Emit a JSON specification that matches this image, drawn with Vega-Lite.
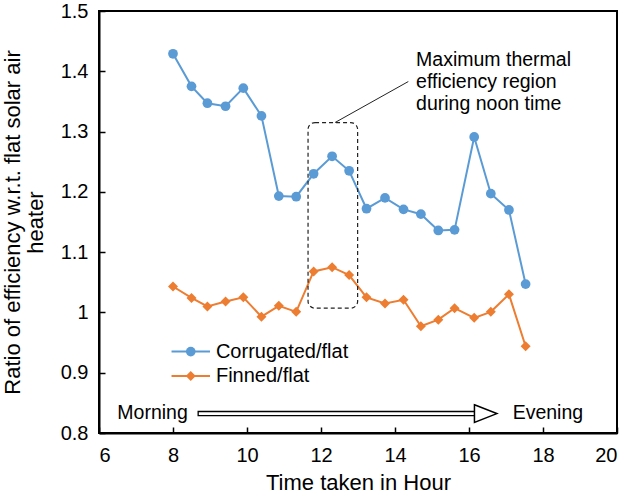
{
  "$schema": "https://vega.github.io/schema/vega-lite/v6.json",
  "width": 518,
  "height": 422,
  "autosize": {"type": "none"},
  "padding": {"left": 99, "top": 11, "right": 23, "bottom": 65},
  "background": "white",
  "config": {
    "font": "Liberation Sans",
    "view": {"stroke": "black", "strokeWidth": 2},
    "axis": {
      "domainColor": "black",
      "domainWidth": 2,
      "tickColor": "black",
      "tickWidth": 1.5,
      "tickSize": -6,
      "labelColor": "black",
      "labelFontSize": 20,
      "labelFont": "Liberation Sans",
      "titleColor": "black",
      "titleFontSize": 22,
      "titleFontWeight": "normal",
      "titleFont": "Liberation Sans",
      "grid": false
    }
  },
  "datasets": {
    "ratios": [
      {"hour": 8.0, "ratio": 1.429, "series": "Corrugated/flat"},
      {"hour": 8.5, "ratio": 1.375, "series": "Corrugated/flat"},
      {"hour": 8.93, "ratio": 1.347, "series": "Corrugated/flat"},
      {"hour": 9.42, "ratio": 1.342, "series": "Corrugated/flat"},
      {"hour": 9.9, "ratio": 1.372, "series": "Corrugated/flat"},
      {"hour": 10.39, "ratio": 1.326, "series": "Corrugated/flat"},
      {"hour": 10.86, "ratio": 1.193, "series": "Corrugated/flat"},
      {"hour": 11.33, "ratio": 1.192, "series": "Corrugated/flat"},
      {"hour": 11.8, "ratio": 1.23, "series": "Corrugated/flat"},
      {"hour": 12.3, "ratio": 1.259, "series": "Corrugated/flat"},
      {"hour": 12.76, "ratio": 1.235, "series": "Corrugated/flat"},
      {"hour": 13.23, "ratio": 1.172, "series": "Corrugated/flat"},
      {"hour": 13.73, "ratio": 1.19, "series": "Corrugated/flat"},
      {"hour": 14.23, "ratio": 1.171, "series": "Corrugated/flat"},
      {"hour": 14.7, "ratio": 1.163, "series": "Corrugated/flat"},
      {"hour": 15.17, "ratio": 1.136, "series": "Corrugated/flat"},
      {"hour": 15.61, "ratio": 1.137, "series": "Corrugated/flat"},
      {"hour": 16.14, "ratio": 1.291, "series": "Corrugated/flat"},
      {"hour": 16.59, "ratio": 1.197, "series": "Corrugated/flat"},
      {"hour": 17.08, "ratio": 1.17, "series": "Corrugated/flat"},
      {"hour": 17.53, "ratio": 1.047, "series": "Corrugated/flat"},
      {"hour": 8.0, "ratio": 1.043, "series": "Finned/flat"},
      {"hour": 8.5, "ratio": 1.024, "series": "Finned/flat"},
      {"hour": 8.93, "ratio": 1.01, "series": "Finned/flat"},
      {"hour": 9.42, "ratio": 1.018, "series": "Finned/flat"},
      {"hour": 9.9, "ratio": 1.025, "series": "Finned/flat"},
      {"hour": 10.39, "ratio": 0.993, "series": "Finned/flat"},
      {"hour": 10.86, "ratio": 1.011, "series": "Finned/flat"},
      {"hour": 11.33, "ratio": 1.001, "series": "Finned/flat"},
      {"hour": 11.8, "ratio": 1.068, "series": "Finned/flat"},
      {"hour": 12.3, "ratio": 1.075, "series": "Finned/flat"},
      {"hour": 12.76, "ratio": 1.062, "series": "Finned/flat"},
      {"hour": 13.23, "ratio": 1.025, "series": "Finned/flat"},
      {"hour": 13.73, "ratio": 1.015, "series": "Finned/flat"},
      {"hour": 14.23, "ratio": 1.021, "series": "Finned/flat"},
      {"hour": 14.7, "ratio": 0.977, "series": "Finned/flat"},
      {"hour": 15.17, "ratio": 0.988, "series": "Finned/flat"},
      {"hour": 15.61, "ratio": 1.007, "series": "Finned/flat"},
      {"hour": 16.14, "ratio": 0.991, "series": "Finned/flat"},
      {"hour": 16.59, "ratio": 1.001, "series": "Finned/flat"},
      {"hour": 17.08, "ratio": 1.03, "series": "Finned/flat"},
      {"hour": 17.53, "ratio": 0.944, "series": "Finned/flat"}
    ],
    "one": [{"n": 1}]
  },
  "layer": [
    {
      "data": {"name": "ratios"},
      "mark": {"type": "line", "strokeWidth": 2},
      "encoding": {
        "x": {
          "field": "hour",
          "type": "quantitative",
          "title": "Time taken in Hour",
          "scale": {"domain": [6, 20], "nice": false, "zero": false},
          "axis": {
            "values": [6, 7, 8, 9, 10, 11, 12, 13, 14, 15, 16, 17, 18, 19, 20],
            "labelExpr": "datum.value % 2 == 0 ? datum.label : ''",
            "labelPadding": 18,
            "titlePadding": 7
          }
        },
        "y": {
          "field": "ratio",
          "type": "quantitative",
          "title": ["Ratio of efficiency w.r.t.  flat solar air", "heater"],
          "scale": {"domain": [0.8, 1.5], "nice": false, "zero": false},
          "axis": {
            "values": [0.8, 0.9, 1.0, 1.1, 1.2, 1.3, 1.4, 1.5],
            "format": ".1~f",
            "labelPadding": 17,
            "titlePadding": 13,
            "titleLineHeight": 23
          }
        },
        "color": {
          "field": "series",
          "type": "nominal",
          "scale": {"domain": ["Corrugated/flat", "Finned/flat"], "range": ["#5B9BD5", "#ED7D31"]},
          "legend": null
        }
      }
    },
    {
      "data": {"name": "ratios"},
      "mark": {"type": "point", "filled": true, "opacity": 1},
      "encoding": {
        "x": {"field": "hour", "type": "quantitative"},
        "y": {"field": "ratio", "type": "quantitative"},
        "color": {"field": "series", "type": "nominal", "legend": null},
        "shape": {
          "field": "series",
          "type": "nominal",
          "scale": {"domain": ["Corrugated/flat", "Finned/flat"], "range": ["circle", "diamond"]},
          "legend": null
        },
        "size": {
          "field": "series",
          "type": "nominal",
          "scale": {"domain": ["Corrugated/flat", "Finned/flat"], "range": [95, 100]},
          "legend": null
        }
      }
    },
    {
      "data": {"name": "one"},
      "mark": {"type": "rect", "fill": null, "fillOpacity": 0, "stroke": "#222222", "strokeWidth": 1.2, "strokeDash": [4, 3], "cornerRadius": 7},
      "encoding": {
        "x": {"datum": 11.65, "type": "quantitative"},
        "x2": {"datum": 12.99},
        "y": {"datum": 1.007, "type": "quantitative"},
        "y2": {"datum": 1.315}
      }
    },
    {
      "data": {"name": "one"},
      "mark": {"type": "rule", "stroke": "#222222", "strokeWidth": 1},
      "encoding": {
        "x": {"datum": 12.38, "type": "quantitative"},
        "x2": {"datum": 14.36},
        "y": {"datum": 1.315, "type": "quantitative"},
        "y2": {"datum": 1.383}
      }
    },
    {
      "data": {"name": "one"},
      "mark": {"type": "text", "align": "left", "baseline": "alphabetic", "fontSize": 19.5, "lineHeight": 22, "color": "black"},
      "encoding": {
        "x": {"datum": 14.57, "type": "quantitative"},
        "y": {"datum": 1.408, "type": "quantitative"},
        "text": {"value": ["Maximum  thermal", "efficiency region", "during  noon time"]}
      }
    },
    {
      "data": {"name": "one"},
      "mark": {"type": "rule", "stroke": "#5B9BD5", "strokeWidth": 2},
      "encoding": {"x": {"datum": 7.96, "type": "quantitative"}, "x2": {"datum": 9.0}, "y": {"datum": 0.935, "type": "quantitative"}}
    },
    {
      "data": {"name": "one"},
      "mark": {"type": "point", "filled": true, "opacity": 1, "shape": "circle", "size": 95, "color": "#5B9BD5"},
      "encoding": {"x": {"datum": 8.48, "type": "quantitative"}, "y": {"datum": 0.935, "type": "quantitative"}}
    },
    {
      "data": {"name": "one"},
      "mark": {"type": "text", "align": "left", "baseline": "middle", "fontSize": 20, "color": "black"},
      "encoding": {"x": {"datum": 9.16, "type": "quantitative"}, "y": {"datum": 0.935, "type": "quantitative"}, "text": {"value": "Corrugated/flat"}}
    },
    {
      "data": {"name": "one"},
      "mark": {"type": "rule", "stroke": "#ED7D31", "strokeWidth": 2},
      "encoding": {"x": {"datum": 7.96, "type": "quantitative"}, "x2": {"datum": 9.0}, "y": {"datum": 0.8947, "type": "quantitative"}}
    },
    {
      "data": {"name": "one"},
      "mark": {"type": "point", "filled": true, "opacity": 1, "shape": "diamond", "size": 100, "color": "#ED7D31"},
      "encoding": {"x": {"datum": 8.48, "type": "quantitative"}, "y": {"datum": 0.8947, "type": "quantitative"}}
    },
    {
      "data": {"name": "one"},
      "mark": {"type": "text", "align": "left", "baseline": "middle", "fontSize": 20, "color": "black"},
      "encoding": {"x": {"datum": 9.16, "type": "quantitative"}, "y": {"datum": 0.8947, "type": "quantitative"}, "text": {"value": "Finned/flat"}}
    },
    {
      "data": {"name": "one"},
      "mark": {"type": "text", "align": "left", "baseline": "middle", "fontSize": 19.5, "color": "black"},
      "encoding": {"x": {"datum": 6.495, "type": "quantitative"}, "y": {"datum": 0.8338, "type": "quantitative"}, "text": {"value": "Morning"}}
    },
    {
      "data": {"name": "one"},
      "mark": {"type": "text", "align": "left", "baseline": "middle", "fontSize": 19.5, "color": "black"},
      "encoding": {"x": {"datum": 17.18, "type": "quantitative"}, "y": {"datum": 0.8338, "type": "quantitative"}, "text": {"value": "Evening"}}
    },
    {
      "data": {"name": "one"},
      "mark": {"type": "rect", "fill": "white", "stroke": "black", "strokeWidth": 1.3},
      "encoding": {
        "x": {"datum": 8.68, "type": "quantitative"},
        "x2": {"datum": 16.17},
        "y": {"datum": 0.8287, "type": "quantitative"},
        "y2": {"datum": 0.8357}
      }
    },
    {
      "data": {"name": "one"},
      "mark": {"type": "point", "filled": true, "opacity": 1, "fill": "white", "stroke": "black", "strokeWidth": 1.5, "shape": "M-1,-0.79L1,0L-1,0.79Z", "size": 502},
      "encoding": {"x": {"datum": 16.45, "type": "quantitative"}, "y": {"datum": 0.8322, "type": "quantitative"}}
    }
  ]
}
